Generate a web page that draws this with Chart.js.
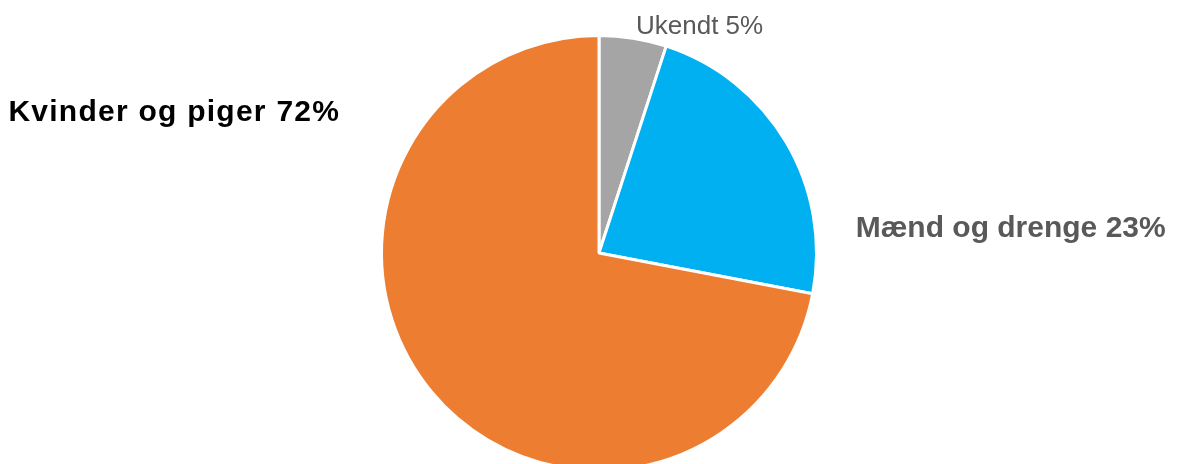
<!DOCTYPE html>
<html>
<head>
<meta charset="utf-8">
<script src="https://cdn.jsdelivr.net/npm/chart.js@4/dist/chart.umd.min.js"></script>
<style>
html,body{margin:0;padding:0;background:#fff;overflow:hidden;width:1194px;height:464px;}
#wrap{position:relative;width:1194px;height:506px;}
</style>
</head>
<body>
<div id="wrap"><canvas id="c"></canvas></div>
<script>
const categories = ["Ukendt", "Mænd og drenge", "Kvinder og piger"];
const values = [5, 23, 72];
const colors = ["#A5A5A5", "#00B0F0", "#ED7D31"];

// label styling (relative to pie centre, in units of radius)
const labelStyles = [
  {fx: 0.17, fy: -1.009, align: "left", font: "normal 26px 'Liberation Sans', Arial, sans-serif", color: "#595959", spacing: "0px"},
  {fx: 1.18, fy: -0.074, align: "left", font: "bold 30px 'Liberation Sans', Arial, sans-serif", color: "#595959", spacing: "0px"},
  {fx: -1.19, fy: -0.608, align: "right", font: "bold 30px 'Liberation Sans', Arial, sans-serif", color: "#000000", spacing: "1.25px"}
];

const labelPlugin = {
  id: "outLabels",
  afterDatasetsDraw(chart) {
    const ctx = chart.ctx;
    const meta = chart.getDatasetMeta(0);
    const total = values.reduce((a, b) => a + b, 0);
    meta.data.forEach((arc, i) => {
      const s = labelStyles[i];
      const r = arc.outerRadius;
      const x = arc.x + s.fx * r;
      const y = arc.y + s.fy * r;
      const pct = Math.round(values[i] / total * 100);
      ctx.save();
      ctx.font = s.font;
      if ('letterSpacing' in ctx) ctx.letterSpacing = s.spacing;
      ctx.fillStyle = s.color;
      ctx.textAlign = s.align;
      ctx.textBaseline = "alphabetic";
      ctx.fillText(categories[i] + " " + pct + "%", x, y);
      ctx.restore();
    });
  }
};

new Chart(document.getElementById("c"), {
  type: "pie",
  data: {
    labels: categories,
    datasets: [{
      data: values,
      backgroundColor: colors,
      borderColor: "#ffffff",
      borderWidth: 3
    }]
  },
  options: {
    responsive: true,
    maintainAspectRatio: false,
    animation: false,
    layout: {padding: {top: 34, bottom: 34, left: 4, right: 0}},
    plugins: {legend: {display: false}, tooltip: {enabled: false}}
  },
  plugins: [labelPlugin]
});
</script>
</body>
</html>
